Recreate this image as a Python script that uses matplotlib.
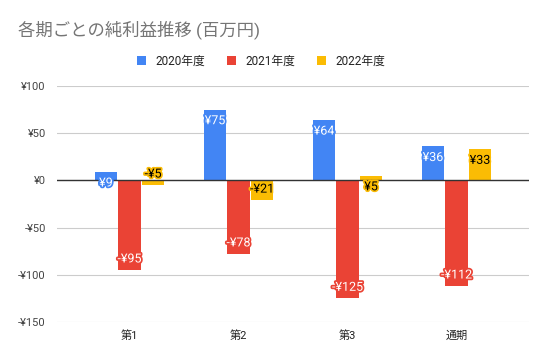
import matplotlib
matplotlib.use("Agg")
import matplotlib.pyplot as plt
import matplotlib.patheffects as pe
import numpy as np

plt.rcParams['font.family'] = ['Roboto', 'Noto Sans CJK JP', 'DejaVu Sans']

categories = ['第1', '第2', '第3', '通期']
series_names = ['2020年度', '2021年度', '2022年度']
values_2020 = [9, 75, 64, 36]
values_2021 = [-95, -78, -125, -112]
values_2022 = [-5, -21, 5, 33]
colors = ['#4285F4', '#EA4335', '#FBBC04']
label_colors = ['white', 'white', 'black']
yticks = [-150, -100, -50, 0, 50, 100]
ytick_labels = ['-¥150', '-¥100', '-¥50', '¥0', '¥50', '¥100']
title = '各期ごとの純利益推移 (百万円)'

fig = plt.figure(figsize=(5.47, 3.6), dpi=100)
ax = fig.add_axes([57/547, 38/360, (529-57)/547, (322-86)/360])

x = np.arange(len(categories))
width = 0.205
offsets = [-0.216, 0, 0.216]
all_vals = [values_2020, values_2021, values_2022]
handles = []
for i, vals in enumerate(all_vals):
    bars = ax.bar(x + offsets[i], vals, width, color=colors[i], label=series_names[i], zorder=3)
    handles.append(bars)
    for xi, v in zip(x + offsets[i], vals):
        s = np.sign(v) if v != 0 else 1
        txt = ('-¥%d' % abs(v)) if v < 0 else ('¥%d' % v)
        ax.annotate(txt, (xi, v), xytext=(0, -8 * s), textcoords='offset points',
                    ha='center', va='center', fontsize=9, color=label_colors[i], zorder=5,
                    path_effects=[pe.withStroke(linewidth=2.5, foreground=colors[i])])

ax.set_xlim(-0.665, 3.665)
ax.set_ylim(-150, 100)
ax.set_yticks(yticks)
ax.set_yticklabels(ytick_labels)
ax.set_xticks(x)
ax.set_xticklabels(categories)
for sp in ax.spines.values():
    sp.set_visible(False)
ax.grid(axis='y', color='#cccccc', linewidth=0.8, zorder=0)
ax.axhline(0, color='#333333', linewidth=1, zorder=4)
ax.tick_params(axis='both', length=0, labelsize=8, colors='#444444')
ax.tick_params(axis='y', pad=8)
ax.tick_params(axis='x', pad=6)
for lab in ax.get_xticklabels():
    lab.set_color('#222222')

fig.text(18/547, 1 - 30/360, title, fontsize=12.5, color='#757575', va='center', ha='left')

fig.legend(handles=handles, labels=series_names, loc='center', bbox_to_anchor=(261/547, 1 - 61/360),
           ncol=3, frameon=False, fontsize=8.5, handlelength=0.8, handleheight=0.8,
           columnspacing=1.8, handletextpad=0.8, labelcolor='#222222')

fig.savefig('out.png', dpi=100)
